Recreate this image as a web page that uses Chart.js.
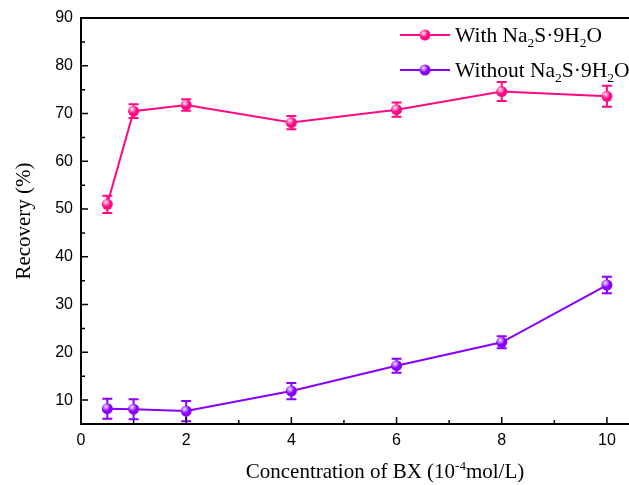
<!DOCTYPE html>
<html><head><meta charset="utf-8">
<script src="https://cdn.jsdelivr.net/npm/chart.js@4"></script>
<style>html,body{margin:0;padding:0;background:#fff}#wrap{width:629px;height:485px;position:relative}</style>
</head><body><div id="wrap"><canvas id="c" width="629" height="485"></canvas></div>
<script>
const concentration = [0.5, 1, 2, 4, 6, 8, 10];
const withNa2S = [51.0, 70.5, 71.8, 68.1, 70.8, 74.6, 73.6];
const withNa2SErr = [1.8, 1.45, 1.2, 1.4, 1.5, 2.0, 2.2];
const withoutNa2S = [8.2, 8.1, 7.7, 11.9, 17.2, 22.1, 34.1];
const withoutNa2SErr = [2.1, 2.1, 2.1, 1.7, 1.45, 1.25, 1.75];
const xTicks = [0, 2, 4, 6, 8, 10];
const xMinorTicks = [1, 3, 5, 7, 9];
const yTicks = [10, 20, 30, 40, 50, 60, 70, 80, 90];
const yMinorTicks = [5, 15, 25, 35, 45, 55, 65, 75, 85];
const seriesNames = ['With', 'Without'];

const PINK = '#FF0A84';
const PURPLE = '#8A00FF';
const SERIF = '"Liberation Serif", "Times New Roman", serif';
const SANS = '"Liberation Sans", Arial, sans-serif';

const errs = [withNa2SErr, withoutNa2SErr];

function drawRich(ctx, parts, x, y, align) {
  let total = 0;
  parts.forEach(p => { ctx.font = p.size + 'px ' + SERIF; p.w = ctx.measureText(p.t).width; total += p.w; });
  let cx = align === 'center' ? x - total / 2 : x;
  ctx.textAlign = 'left';
  ctx.textBaseline = 'alphabetic';
  parts.forEach(p => { ctx.font = p.size + 'px ' + SERIF; ctx.fillText(p.t, cx, y + (p.dy || 0)); cx += p.w; });
}

function ball(ctx, x, y, r, color) {
  ctx.beginPath();
  ctx.arc(x, y, r, 0, Math.PI * 2);
  ctx.fillStyle = color;
  ctx.fill();
  const g = ctx.createRadialGradient(x - 1.5, y - 2, 0, x - 1.5, y - 2, r * 0.8);
  g.addColorStop(0, 'rgba(255,255,255,0.9)');
  g.addColorStop(1, 'rgba(255,255,255,0)');
  ctx.beginPath();
  ctx.arc(x, y, r, 0, Math.PI * 2);
  ctx.fillStyle = g;
  ctx.fill();
}

const custom = {
  id: 'custom',
  beforeDatasetsDraw(chart) {
    const ctx = chart.ctx, xs = chart.scales.x, ys = chart.scales.y;
    ctx.save();
    chart.data.datasets.forEach((ds, di) => {
      ctx.strokeStyle = ds.borderColor;
      ctx.lineWidth = 2;
      ds.data.forEach((p, i) => {
        const e = errs[di][i];
        const px = xs.getPixelForValue(p.x);
        const top = ys.getPixelForValue(p.y + e);
        const bot = ys.getPixelForValue(p.y - e);
        ctx.beginPath();
        ctx.moveTo(px, top); ctx.lineTo(px, bot);
        ctx.moveTo(px - 5, top); ctx.lineTo(px + 5, top);
        ctx.moveTo(px - 5, bot); ctx.lineTo(px + 5, bot);
        ctx.stroke();
      });
    });
    ctx.restore();
  },
  afterDatasetsDraw(chart) {
    const ctx = chart.ctx;
    ctx.save();
    chart.data.datasets.forEach((ds, di) => {
      chart.getDatasetMeta(di).data.forEach(pt => ball(ctx, pt.x, pt.y, 5.5, ds.borderColor));
    });
    ctx.restore();
  },
  afterDraw(chart) {
    const ctx = chart.ctx, a = chart.chartArea, xs = chart.scales.x, ys = chart.scales.y;
    ctx.save();
    ctx.strokeStyle = '#000';
    ctx.lineWidth = 2;
    ctx.beginPath();
    ctx.moveTo(a.left, a.top); ctx.lineTo(a.right + 2, a.top);
    ctx.moveTo(a.left, a.top - 1); ctx.lineTo(a.left, a.bottom + 1);
    ctx.moveTo(a.left - 1, a.bottom); ctx.lineTo(a.right + 2, a.bottom);
    ctx.stroke();
    ctx.lineWidth = 1.5;
    ctx.beginPath();
    yTicks.forEach(v => { const y = ys.getPixelForValue(v); ctx.moveTo(a.left, y); ctx.lineTo(a.left + 7, y); });
    yMinorTicks.forEach(v => { const y = ys.getPixelForValue(v); ctx.moveTo(a.left, y); ctx.lineTo(a.left + 4, y); });
    xTicks.forEach(v => { const x = xs.getPixelForValue(v); ctx.moveTo(x, a.bottom); ctx.lineTo(x, a.bottom - 7); });
    xMinorTicks.forEach(v => { const x = xs.getPixelForValue(v); ctx.moveTo(x, a.bottom); ctx.lineTo(x, a.bottom - 4); });
    ctx.stroke();

    // legend
    chart.data.datasets.forEach((ds, di) => {
      const ly = 35 + di * 35;
      ctx.strokeStyle = ds.borderColor; ctx.lineWidth = 2;
      ctx.beginPath(); ctx.moveTo(400, ly); ctx.lineTo(450, ly); ctx.stroke();
      ball(ctx, 425, ly, 5.5, ds.borderColor);
      ctx.fillStyle = '#000';
      drawRich(ctx, [
        {t: seriesNames[di] + ' Na', size: 21.5},
        {t: '2', size: 13.5, dy: 5},
        {t: 'S\u00B79H', size: 21.5},
        {t: '2', size: 13.5, dy: 5},
        {t: 'O', size: 21.5}
      ], 455, ly + 7, 'left');
    });

    // x title
    ctx.fillStyle = '#000';
    drawRich(ctx, [
      {t: 'Concentration of BX (10', size: 21},
      {t: '-4', size: 13, dy: -8},
      {t: 'mol/L)', size: 21}
    ], 385, 478, 'center');

    // y title
    ctx.translate(24, 221);
    ctx.rotate(-Math.PI / 2);
    ctx.font = '21px ' + SERIF;
    ctx.textAlign = 'center';
    ctx.textBaseline = 'middle';
    ctx.fillText('Recovery (%)', 0, 0);
    ctx.restore();
  }
};

const mk = (ys) => concentration.map((x, i) => ({x, y: ys[i]}));

new Chart(document.getElementById('c'), {
  type: 'line',
  data: {
    datasets: [
      {label: 'With Na2S·9H2O', data: mk(withNa2S), borderColor: PINK, backgroundColor: PINK, borderWidth: 2, pointRadius: 0, tension: 0},
      {label: 'Without Na2S·9H2O', data: mk(withoutNa2S), borderColor: PURPLE, backgroundColor: PURPLE, borderWidth: 2, pointRadius: 0, tension: 0}
    ]
  },
  options: {
    responsive: false,
    animation: false,
    layout: {padding: {top: 18, left: 0, right: 0, bottom: 0}},
    plugins: {legend: {display: false}, tooltip: {enabled: false}},
    scales: {
      x: {
        type: 'linear', min: 0, max: 10.42,
        grid: {display: false, drawTicks: false}, border: {display: false},
        afterBuildTicks: s => { s.ticks = xTicks.map(v => ({value: v})); },
        afterFit: s => { s.height = 61; },
        ticks: {font: {family: SANS, size: 16}, color: '#000', padding: 7, maxRotation: 0, autoSkip: false}
      },
      y: {
        type: 'linear', min: 5, max: 90,
        grid: {display: false, drawTicks: false}, border: {display: false},
        afterBuildTicks: s => { s.ticks = yTicks.map(v => ({value: v})); },
        afterFit: s => { s.width = 81; },
        ticks: {font: {family: SANS, size: 16}, color: '#000', padding: 8, autoSkip: false}
      }
    }
  },
  plugins: [custom]
});
</script>
</body></html>
